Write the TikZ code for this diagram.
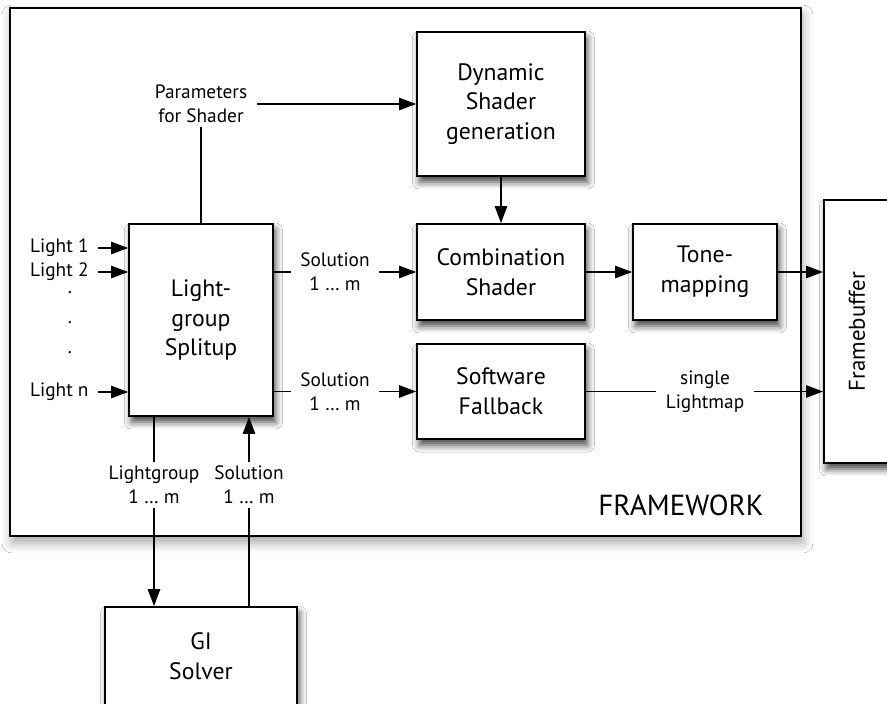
\documentclass[tikz,border=0pt]{standalone}
\usepackage{fontspec}
\setmainfont{PT Sans}
\usetikzlibrary{arrows.meta,shadows.blur}

\begin{document}
\begin{tikzpicture}[x=0.02cm,y=-0.02cm,>={Triangle[length=3.4mm,width=2.5mm]},
                    line width=0.75pt,font=\fontsize{11}{13.5}\selectfont]
  \tikzstyle{block}=[draw,line width=1.1pt,fill=white,align=center,
                     font=\fontsize{13.5}{17}\selectfont,
                     blur shadow={shadow xshift=0.5mm,shadow yshift=-1.2mm,
                                  shadow blur radius=1.4mm,shadow opacity=75}]
  \tikzstyle{frame}=[draw,line width=1pt,fill=white,inner sep=0pt,
                     minimum width=15.82cm,minimum height=10.56cm,
                     blur shadow={shadow xshift=0.4mm,shadow yshift=-1.4mm,
                                  shadow blur radius=2mm,shadow opacity=35}]
  \tikzstyle{lbl}=[align=center,inner xsep=5pt,inner ysep=2pt]
  \tikzstyle{light}=[anchor=east,inner xsep=5pt,inner ysep=0pt]
  \tikzstyle{dot}=[inner sep=0pt]

  \clip (0,0) rectangle (887,704);
  \fill[white] (0,0) rectangle (887,704);

  % framework
  \node[frame] (fw) at (405.5,272) {};
  \node[font=\fontsize{16.5}{20}\selectfont] (fwl) at (681,505) {FRAMEWORK};

  % blocks
  \node[block,minimum width=3.36cm,minimum height=2.88cm] (dyn)   at (501,104)   {Dynamic\\Shader\\generation};
  \node[block,minimum width=3.36cm,minimum height=1.92cm] (comb)  at (501,272)   {Combination\\Shader};
  \node[block,minimum width=2.88cm,minimum height=1.92cm] (tone)  at (705,272)   {Tone-\\mapping};
  \node[block,minimum width=3.36cm,minimum height=1.9cm]  (soft)  at (501,391.5) {Software\\Fallback};
  \node[block,minimum width=2.88cm,minimum height=3.84cm] (split) at (201,320)   {Light-\\group\\Splitup};
  \node[block,minimum width=3.84cm,minimum height=1.96cm] (gi)    at (201,656)   {GI\\Solver};
  \node[block,minimum width=1.32cm,minimum height=5.26cm] (fb)    at (857,331.5) {};
  \node[rotate=90,font=\fontsize{13}{15}\selectfont] (fbl) at (fb) {Framebuffer};

  % labels
  \node[lbl] (par) at (201,104)   {Parameters\\for Shader};
  \node[lbl] (s1)  at (335,272)   {Solution\\1 … m};
  \node[lbl] (s2)  at (335,391.5) {Solution\\1 … m};
  \node[lbl] (sl)  at (705,391.5) {single\\Lightmap};
  \node[lbl] (lg)  at (154,485)   {Lightgroup\\1 … m};
  \node[lbl] (s3)  at (249,485)   {Solution\\1 … m};
  \node[light] (l1) at (98,248) {Light 1};
  \node[light] (l2) at (98,272) {Light 2};
  \node[light] (ln) at (98,392) {Light n};
  \node[dot] (d1) at (70,293) {.};
  \node[dot] (d2) at (70,323) {.};
  \node[dot] (d3) at (70,353) {.};

  % connectors
  \draw (split.north) -- (par.south);
  \draw[->] (par.east) -- (dyn.west);
  \draw[->] (dyn.south) -- (comb.north);
  \draw (split.east |- s1.west) -- (s1.west);
  \draw[->] (s1.east) -- (comb.west);
  \draw (split.east |- s2.west) -- (s2.west);
  \draw[->] (s2.east) -- (soft.west);
  \draw[->] (comb.east) -- (tone.west);
  \draw[->] (tone.east) -- (tone.east -| fb.west);
  \draw (soft.east) -- (sl.west);
  \draw[->] (sl.east) -- (sl.east -| fb.west);
  \draw[->] (l1.east) -- (l1.east -| split.west);
  \draw[->] (l2.east) -- (l2.east -| split.west);
  \draw[->] (ln.east) -- (ln.east -| split.west);
  \draw (split.south -| lg.north) -- (lg.north);
  \draw[->] (lg.south) -- (lg.south |- gi.north);
  \draw (s3.south |- gi.north) -- (s3.south);
  \draw[->] (s3.north) -- (s3.north |- split.south);
\end{tikzpicture}
\end{document}
